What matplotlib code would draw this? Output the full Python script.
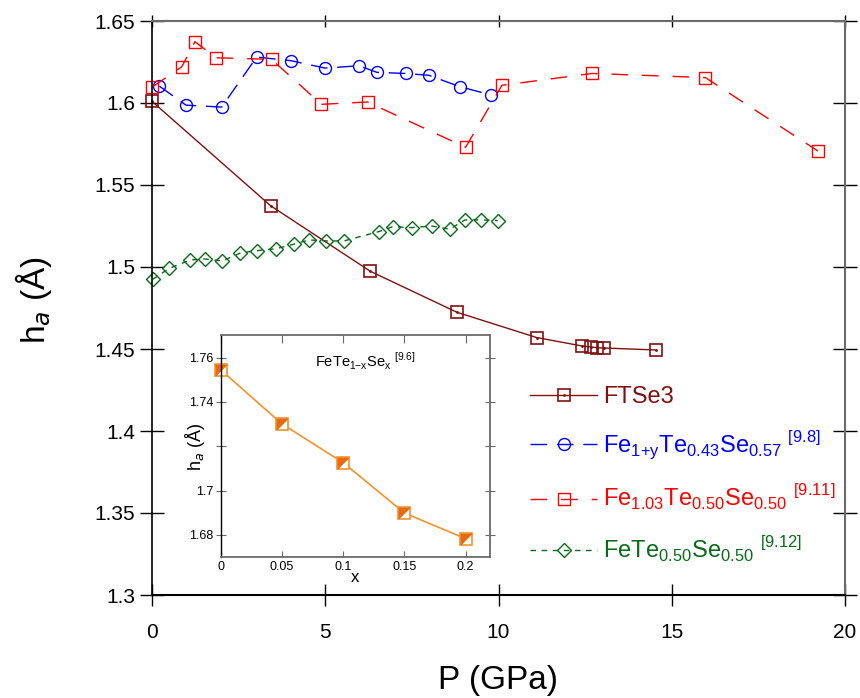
import matplotlib
matplotlib.use("Agg")
import matplotlib.pyplot as plt

# FTSe3
p_ftse3 = [0.0, 3.42, 6.30, 8.80, 11.10, 12.42, 12.68, 12.85, 13.05, 14.55]
h_ftse3 = [1.601, 1.5374, 1.4974, 1.4724, 1.457, 1.4518, 1.4512, 1.4508, 1.4506, 1.4494]

# Fe1+yTe0.43Se0.57 [9.8]
p_fe1y = [0.21, 0.98, 2.01, 3.02, 4.01, 4.99, 5.98, 6.49, 7.32, 7.99, 8.89, 9.77]
h_fe1y = [1.6103, 1.5987, 1.5975, 1.628, 1.6258, 1.6213, 1.6227, 1.6187, 1.618, 1.6169, 1.6099, 1.605]

# Fe1.03Te0.50Se0.50 [9.11]
p_fe103 = [0.0, 0.86, 1.24, 1.84, 3.45, 4.89, 6.22, 9.05, 10.10, 12.70, 15.97, 19.22]
h_fe103 = [1.6096, 1.6221, 1.6374, 1.6276, 1.6266, 1.5992, 1.6006, 1.573, 1.6108, 1.618, 1.6155, 1.5707]

# FeTe0.50Se0.50 [9.12]
p_fete = [0.02, 0.50, 1.11, 1.52, 2.03, 2.55, 3.04, 3.59, 4.09, 4.53, 5.03, 5.54,
          6.55, 6.95, 7.49, 8.07, 8.59, 9.03, 9.50, 9.98]
h_fete = [1.4925, 1.4992, 1.5043, 1.5049, 1.5037, 1.5085, 1.510, 1.5112, 1.5139, 1.5165, 1.5159, 1.5159,
          1.5216, 1.5246, 1.524, 1.525, 1.523, 1.5287, 1.5287, 1.5283]

# inset: FeTe1-xSex [9.6]
x_inset = [0.0, 0.05, 0.10, 0.15, 0.20]
h_inset = [1.7545, 1.7301, 1.7126, 1.6899, 1.6783]

main_yticks = [1.3, 1.35, 1.4, 1.45, 1.5, 1.55, 1.6, 1.65]
main_ylabels = ["1.3", "1.35", "1.4", "1.45", "1.5", "1.55", "1.6", "1.65"]
inset_yticks = [1.68, 1.70, 1.72, 1.74, 1.76]
inset_ylabels = ["1.68", "1.7", "", "1.74", "1.76"]
inset_xticks = [0, 0.05, 0.1, 0.15, 0.2]
inset_xlabels = ["0", "0.05", "0.1", "0.15", "0.2"]

plt.rcParams["font.family"] = ["Liberation Sans", "DejaVu Sans"]
plt.rcParams["mathtext.fontset"] = "custom"
plt.rcParams["mathtext.rm"] = "Liberation Sans"
plt.rcParams["mathtext.it"] = "DejaVu Sans:italic"

c_ftse3 = "#801010"
c_blue = "#0000ff"
c_red = "#ff0000"
c_green = "#0a6a1a"
c_orange = "#f5922e"
c_orange_dk = "#e86a10"
grau = "#6a6a6a"

fig = plt.figure(figsize=(8.6, 6.98), dpi=100)
ax = fig.add_axes([152 / 860, 1 - 595 / 698, 693 / 860, 574 / 698])

l1, = ax.plot(p_ftse3, h_ftse3, "-", color=c_ftse3, lw=1.0, marker="s", ms=8.6,
              mfc="none", mec=c_ftse3, mew=1.2, clip_on=False)
d1, = ax.plot(p_ftse3, h_ftse3, ".", color=c_ftse3, ms=2, lw=0, clip_on=False)
l2, = ax.plot(p_fe1y, h_fe1y, color=c_blue, lw=1.0, dashes=(12, 7), marker="o", ms=8.6,
              mfc="none", mec=c_blue, mew=1.0, clip_on=False)
l3, = ax.plot(p_fe103, h_fe103, color=c_red, lw=1.0, dashes=(12, 10), marker="s", ms=8.6,
              mfc="none", mec=c_red, mew=1.0, clip_on=False)
l4, = ax.plot(p_fete, h_fete, color=c_green, lw=1.0, dashes=(4, 4), marker="D", ms=6.8,
              mfc="none", mec=c_green, mew=1.0, clip_on=False)

ax.set_xlim(0, 20)
ax.set_ylim(1.3, 1.65)
ax.set_xticks([0, 5, 10, 15, 20])
ax.set_yticks(main_yticks)
ax.set_yticklabels(main_ylabels)
ax.tick_params(axis="both", labelsize=15, width=1.0)
ax.tick_params(axis="y", direction="inout", length=17, right=True, color="black")
ax.tick_params(axis="x", direction="inout", length=16, top=True, pad=12)
for t in ax.yaxis.get_major_ticks():
    t.tick2line.set_color(grau)
for t in ax.xaxis.get_major_ticks():
    t.tick2line.set_color(grau)
    t.tick2line.set_markersize(9)
ax.spines["top"].set_color(grau)
ax.spines["right"].set_color(grau)
ax.spines["top"].set_linewidth(1.5)
ax.spines["right"].set_linewidth(1.5)
ax.spines["left"].set_linewidth(1.2)
ax.spines["bottom"].set_linewidth(1.5)

fig.text(498 / 860, 1 - 680 / 698, "P (GPa)", fontsize=24, ha="center", va="center")
fig.text(33 / 860, 1 - 300 / 698, r"h$_{\mathit{a}}$ (Å)", fontsize=24, ha="center",
         va="center", rotation=90)

lbl = [
    "FTSe3",
    r"Fe$_{\mathregular{1{+}y}}$Te$_{\mathregular{0.43}}$Se$_{\mathregular{0.57}}$ $^{\mathregular{[9.8]}}$",
    r"Fe$_{\mathregular{1.03}}$Te$_{\mathregular{0.50}}$Se$_{\mathregular{0.50}}$ $^{\mathregular{[9.11]}}$",
    r"FeTe$_{\mathregular{0.50}}$Se$_{\mathregular{0.50}}$ $^{\mathregular{[9.12]}}$",
]
leg = ax.legend([(l1, d1), l2, l3, l4], lbl, loc="upper left",
                bbox_to_anchor=(530 / 860, 1 - 386 / 698), bbox_transform=fig.transFigure,
                frameon=False, fontsize=17, handlelength=2.85, handletextpad=0.25,
                borderpad=0, borderaxespad=0, labelspacing=0.9)
for txt, col in zip(leg.get_texts(), [c_ftse3, c_blue, c_red, c_green]):
    txt.set_color(col)

# inset
ins = fig.add_axes([220.7 / 860, 1 - 557 / 698, 269.3 / 860, 222 / 698])
ins.set_facecolor("white")
ins.plot(x_inset, h_inset, "-", color=c_orange, lw=1.2)
ins.plot(x_inset, h_inset, lw=0, marker="s", ms=8, mfc="white", mec=c_orange, mew=1.2,
         clip_on=False)
ins.plot(x_inset, h_inset, lw=0, marker=[(-1, -1), (-1, 1), (1, 1), (-1, -1)], ms=8,
         mfc=c_orange_dk, mec=c_orange_dk, mew=0.5, clip_on=False)
ins.set_xlim(0, 0.22)
ins.set_ylim(1.67, 1.7702)
ins.set_xticks(inset_xticks)
ins.set_xticklabels(inset_xlabels)
ins.set_yticks(inset_yticks)
ins.set_yticklabels(inset_ylabels)
ins.tick_params(axis="both", labelsize=9, color=grau)
ins.tick_params(axis="y", direction="inout", length=7, right=True, pad=2)
ins.tick_params(axis="x", direction="in", length=4, top=True, pad=3)
for t in ins.xaxis.get_major_ticks():
    t.tick2line.set_markersize(6)
for s in ins.spines.values():
    s.set_color(grau)
    s.set_linewidth(1.3)
ins.spines["left"].set_color("black")
ins.spines["left"].set_linewidth(1.0)
ins.set_xlabel("x", fontsize=12, labelpad=-2)
fig.text(195 / 860, 1 - 447 / 698, r"h$_{\mathit{a}}$ (Å)", fontsize=13, ha="center",
         va="center", rotation=90)
ins.text(0.118, 1.7585, r"FeTe$_{\mathregular{1{-}x}}$Se$_{\mathregular{x}}$ $^{\mathregular{[9.6]}}$",
         fontsize=10.5, ha="center", va="center")

fig.savefig("out.png", dpi=100)
